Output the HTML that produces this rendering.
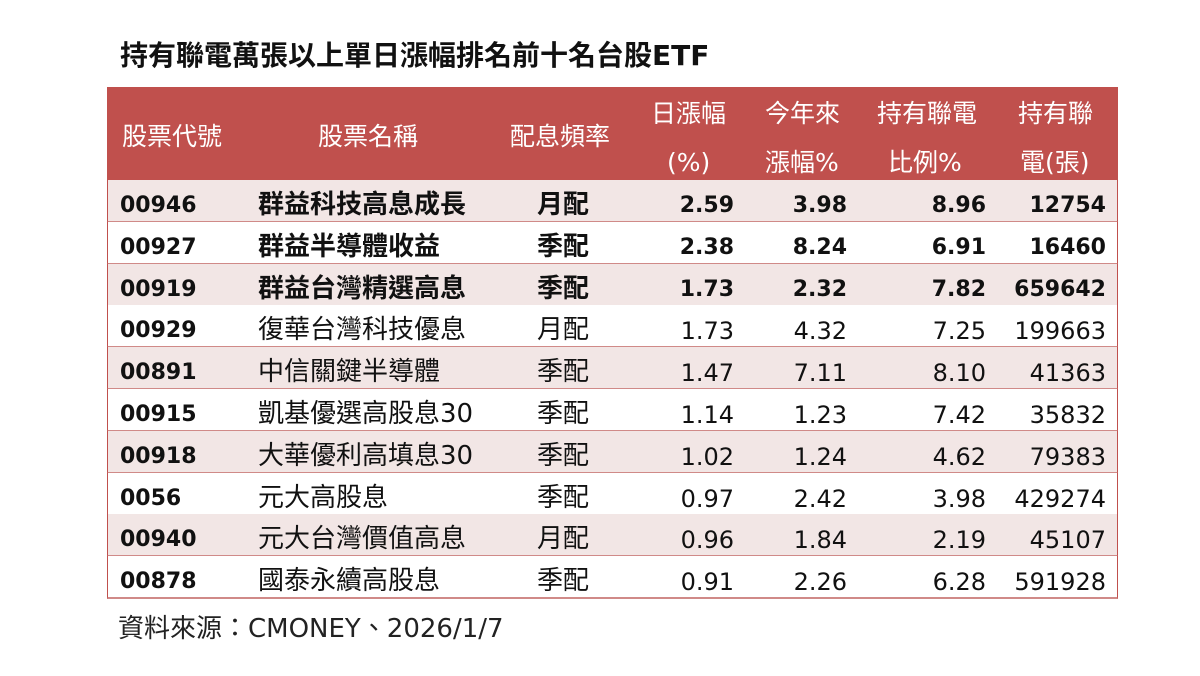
<!DOCTYPE html>
<html><head><meta charset="utf-8"><style>
body{margin:0;width:1200px;height:676px;background:#fff;position:relative;font-family:"DejaVu Sans","Noto Sans CJK TC",sans-serif;overflow:hidden}
.t{position:absolute;white-space:nowrap;line-height:1}
#title{left:120px;top:42px;font-size:28px;font-weight:bold;color:#111}
#hdr{position:absolute;left:107px;top:87px;width:1011px;height:93px;background:#c0504d}
.h{color:#fff;font-size:25px}
.row{position:absolute;left:107px;width:1009px;height:41px;border:1px solid #c0504d;border-top:none;border-bottom:2px solid #d08a88}
.c{position:absolute;top:14px;font-size:24px;color:#111;white-space:nowrap;line-height:1}
.c.b{font-size:22px;top:15px}
.c.code{font-size:22px;top:15px;font-weight:bold}
.c.n{font-size:26px;top:12px}
.b{font-weight:bold}
#src{left:118px;top:616px;font-size:26px;color:#222}
</style></head><body>
<div class="t" id="title">持有聯電萬張以上單日漲幅排名前十名台股ETF</div>
<div id="hdr"></div>
<div class="t h" style="left:122px;top:124px">股票代號</div>
<div class="t h" style="left:318px;top:124px">股票名稱</div>
<div class="t h" style="left:510px;top:124px">配息頻率</div>
<div class="t h" style="left:651px;top:101px">日漲幅</div>
<div class="t h" style="left:667px;top:150px">(%)</div>
<div class="t h" style="left:765px;top:101px">今年來</div>
<div class="t h" style="left:765px;top:150px">漲幅%</div>
<div class="t h" style="left:877px;top:101px">持有聯電</div>
<div class="t h" style="left:888px;top:150px">比例%</div>
<div class="t h" style="left:1018px;top:101px">持有聯</div>
<div class="t h" style="left:1020px;top:150px">電(張)</div>
<div id="rows"></div>
<script>
var d=[["00946","群益科技高息成長","月配","2.59","3.98","8.96","12754",1],
["00927","群益半導體收益","季配","2.38","8.24","6.91","16460",1],
["00919","群益台灣精選高息","季配","1.73","2.32","7.82","659642",1],
["00929","復華台灣科技優息","月配","1.73","4.32","7.25","199663",0],
["00891","中信關鍵半導體","季配","1.47","7.11","8.10","41363",0],
["00915","凱基優選高股息30","季配","1.14","1.23","7.42","35832",0],
["00918","大華優利高填息30","季配","1.02","1.24","4.62","79383",0],
["0056","元大高股息","季配","0.97","2.42","3.98","429274",0],
["00940","元大台灣價值高息","月配","0.96","1.84","2.19","45107",0],
["00878","國泰永續高股息","季配","0.91","2.26","6.28","591928",0]];
var h="";
d.forEach(function(r,i){
var top=180+i*41.8;var bg=i%2==0?"#f2e6e5":"#fff";var b=r[7]?" b":"";
h+='<div class="row" style="top:'+top+'px;background:'+bg+'">'+
'<div class="c code" style="left:12px">'+r[0]+'</div>'+
'<div class="c n'+(r[7]?'" style="font-weight:bold;':'" style="')+'left:150px">'+r[1]+'</div>'+
'<div class="c n'+(r[7]?'" style="font-weight:bold;':'" style="')+'left:429px">'+r[2]+'</div>'+
'<div class="c'+b+'" style="right:383px">'+r[3]+'</div>'+
'<div class="c'+b+'" style="right:270px">'+r[4]+'</div>'+
'<div class="c'+b+'" style="right:131px">'+r[5]+'</div>'+
'<div class="c'+b+'" style="right:11px">'+r[6]+'</div></div>';});
document.getElementById("rows").innerHTML=h;
</script>
<div class="t" id="src">資料來源：CMONEY、2026/1/7</div>
</body></html>
